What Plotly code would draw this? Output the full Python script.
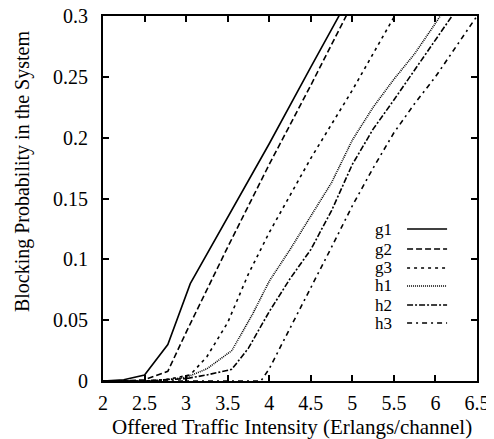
import plotly.graph_objects as go

# ---- data ----
g1_x = [2.0, 2.25, 2.5, 2.78, 3.05, 3.5, 4.0, 4.5, 5.0]
g1_y = [0.0, 0.001, 0.005, 0.030, 0.080, 0.134, 0.195, 0.258, 0.320]

g2_x = [2.0, 2.25, 2.5, 2.78, 3.0, 3.5, 4.0, 4.5, 5.0]
g2_y = [0.0, 0.0, 0.001, 0.008, 0.040, 0.110, 0.178, 0.243, 0.310]

g3_x = [2.0, 2.5, 2.75, 3.05, 3.25, 3.5, 3.75, 4.0, 4.5, 5.0, 5.5, 5.6]
g3_y = [0.0, 0.0, 0.001, 0.005, 0.020, 0.048, 0.088, 0.122, 0.183, 0.239, 0.299, 0.310]

h1_x = [2.0, 2.5, 2.75, 3.0, 3.25, 3.55, 3.8, 4.0, 4.25, 4.5, 4.75, 5.0, 5.25, 5.5, 5.75, 6.0, 6.25]
h1_y = [0.0, 0.0, 0.001, 0.003, 0.010, 0.025, 0.055, 0.082, 0.108, 0.135, 0.163, 0.198, 0.225, 0.248, 0.269, 0.294, 0.320]

h2_x = [2.0, 2.5, 3.0, 3.25, 3.55, 3.75, 4.0, 4.25, 4.5, 4.75, 5.0, 5.25, 5.5, 5.75, 6.0, 6.25]
h2_y = [0.0, 0.0, 0.002, 0.005, 0.0096, 0.027, 0.057, 0.084, 0.108, 0.140, 0.178, 0.207, 0.231, 0.256, 0.280, 0.305]

h3_x = [2.0, 3.9, 4.0, 4.25, 4.5, 4.75, 5.0, 5.25, 5.5, 5.75, 6.0, 6.25, 6.5]
h3_y = [0.0, 0.0, 0.010, 0.043, 0.077, 0.110, 0.144, 0.175, 0.204, 0.228, 0.250, 0.275, 0.300]

names = ["g1", "g2", "g3", "h1", "h2", "h3"]
xs = [g1_x, g2_x, g3_x, h1_x, h2_x, h3_x]
ys = [g1_y, g2_y, g3_y, h1_y, h2_y, h3_y]
dashes = ["solid", "6px,3px", "3px,4px", "1px,1px", "6px,2px,2px,2px", "5px,4px,2px,4px"]

x_ticks = [2, 2.5, 3, 3.5, 4, 4.5, 5, 5.5, 6, 6.5]
x_ticktext = ["2", "2.5", "3", "3.5", "4", "4.5", "5", "5.5", "6", "6.5"]
y_ticks = [0, 0.05, 0.1, 0.15, 0.2, 0.25, 0.3]
y_ticktext = ["0", "0.05", "0.1", "0.15", "0.2", "0.25", "0.3"]

FONT = "Liberation Serif"
FS = 20

fig = go.Figure()
for n, x, y, d in zip(names, xs, ys, dashes):
    fig.add_trace(go.Scatter(x=x, y=y, mode="lines", name=n,
                             line=dict(color="black", width=1.6, dash=d),
                             showlegend=False))

# manual gnuplot-style key (text left of sample)
key_rows = [0.4164, 0.3616, 0.3096, 0.2603, 0.2082, 0.1589]
shapes = []
annotations = []
for n, d, yy in zip(names, dashes, key_rows):
    shapes.append(dict(type="line", xref="paper", yref="paper",
                       x0=0.813, x1=0.920, y0=yy, y1=yy,
                       line=dict(color="black", width=1.6, dash=d)))
    annotations.append(dict(text=n, xref="paper", yref="paper", x=0.779, y=yy,
                            xanchor="right", yanchor="middle", showarrow=False,
                            font=dict(family=FONT, size=17, color="black")))

annotations.append(dict(text="Blocking Probability in the System", xref="paper", yref="paper",
                        x=-0.2166, y=0.575, xanchor="center", yanchor="middle",
                        textangle=-90, showarrow=False,
                        font=dict(family=FONT, size=FS, color="black")))
annotations.append(dict(text="Offered Traffic Intensity (Erlangs/channel)", xref="paper", yref="paper",
                        x=0.505, y=-0.126, xanchor="center", yanchor="middle",
                        showarrow=False,
                        font=dict(family=FONT, size=21, color="black")))

axis_common = dict(showgrid=False, zeroline=False, showline=True, linecolor="black",
                   linewidth=2, mirror="ticks", ticks="inside", ticklen=6,
                   tickwidth=1.5, tickcolor="black", automargin=False,
                   ticklabeloverflow="allow",
                   tickfont=dict(family=FONT, size=FS, color="black"))

# page body adds an 8px offset; figure is sized so the plot area lands where the reference has it
fig.update_layout(
    template="none",
    width=486, height=431,
    margin=dict(l=95, r=17, t=8, b=58, autoexpand=False),
    paper_bgcolor="white", plot_bgcolor="white",
    xaxis=dict(range=[2, 6.5], tickvals=x_ticks, ticktext=x_ticktext,
               ticklabelstandoff=3, **axis_common),
    yaxis=dict(range=[0, 0.3], tickvals=y_ticks, ticktext=y_ticktext,
               ticklabelstandoff=9, **axis_common),
    shapes=shapes, annotations=annotations,
)

fig.write_html("out.html")
